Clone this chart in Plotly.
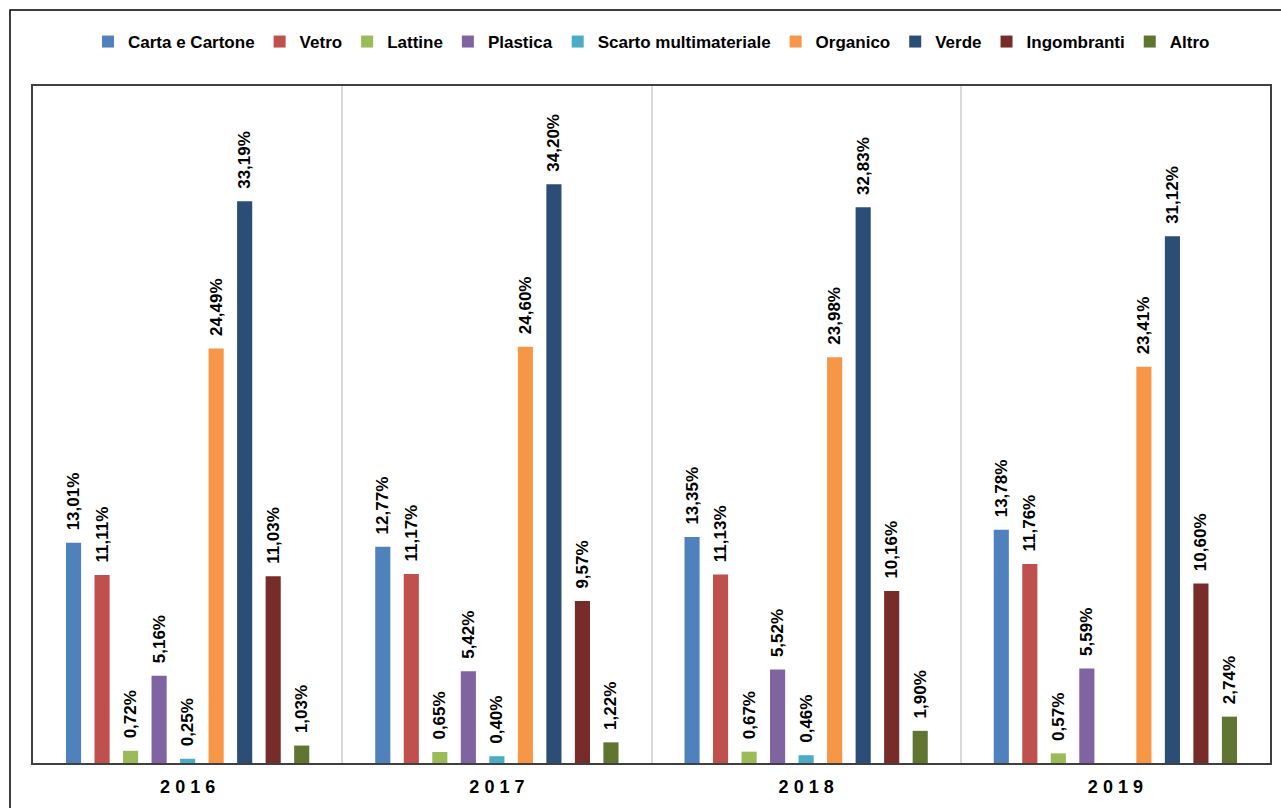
import plotly.graph_objects as go

years = ["2016", "2017", "2018", "2019"]
series_names = ["Carta e Cartone", "Vetro", "Lattine", "Plastica", "Scarto multimateriale",
                "Organico", "Verde", "Ingombranti", "Altro"]
carta = [13.01, 12.77, 13.35, 13.78]
vetro = [11.11, 11.17, 11.13, 11.76]
lattine = [0.72, 0.65, 0.67, 0.57]
plastica = [5.16, 5.42, 5.52, 5.59]
scarto = [0.25, 0.40, 0.46, None]
organico = [24.49, 24.60, 23.98, 23.41]
verde = [33.19, 34.20, 32.83, 31.12]
ingombranti = [11.03, 9.57, 10.16, 10.60]
altro = [1.03, 1.22, 1.90, 2.74]
colors = ["#4F81BD", "#C0504D", "#9BBB59", "#8064A2", "#4BACC6",
          "#F79646", "#2C4D75", "#772C2A", "#5F7530"]

values = [carta, vetro, lattine, plastica, scarto, organico, verde, ingombranti, altro]

FONT = "Liberation Sans, Arial, sans-serif"


def fmt(v):
    if v is None:
        return ""
    # leading non-breaking spaces give the gap between bar top and label
    return "\u00a0\u00a0" + f"{v:.2f}".replace(".", ",") + "%"


fig = go.Figure()
for name, vals, col in zip(series_names, values, colors):
    fig.add_trace(go.Bar(
        x=years, y=vals, name=name,
        marker=dict(color=col, line=dict(width=0)),
        text=[fmt(v) for v in vals],
        textposition="outside",
        textangle=-90,
        constraintext="none",
        textfont=dict(family=FONT, size=17, color="black", weight="bold"),
        cliponaxis=False,
    ))

fig.update_layout(
    width=1281, height=808,
    margin=dict(l=33, r=11, t=86, b=45, autoexpand=False),
    paper_bgcolor="white", plot_bgcolor="white",
    barmode="group", bargap=0.17, bargroupgap=0.47,
    font=dict(family=FONT, color="black"),
    showlegend=True,
    legend=dict(orientation="h", x=0.5, xanchor="center", y=1.065, yanchor="middle",
                font=dict(family=FONT, size=17, color="black", weight="bold"),
                itemwidth=30,
                bgcolor="rgba(0,0,0,0)"),
    xaxis=dict(
        type="category",
        automargin=False,
        tickson="boundaries",
        showgrid=True, gridcolor="#D9D9D9", gridwidth=1.5,
        showline=True, linecolor="#404040", linewidth=2, mirror=True,
        ticks="", ticklabelstandoff=6,
        tickvals=years,
        ticktext=[" ".join(y) for y in years],
        tickfont=dict(family=FONT, size=18, color="black", weight="bold"),
    ),
    yaxis=dict(
        range=[0, 40],
        automargin=False,
        showgrid=False, zeroline=False,
        showticklabels=False, ticks="",
        showline=True, linecolor="#404040", linewidth=2, mirror=True,
    ),
    shapes=[dict(type="rect", xref="paper", yref="paper",
                 x0=-0.0186, x1=1.05, y0=-0.2, y1=1.1123,
                 line=dict(color="black", width=1.5), fillcolor="rgba(0,0,0,0)")],
)

fig.write_html("out.html")
